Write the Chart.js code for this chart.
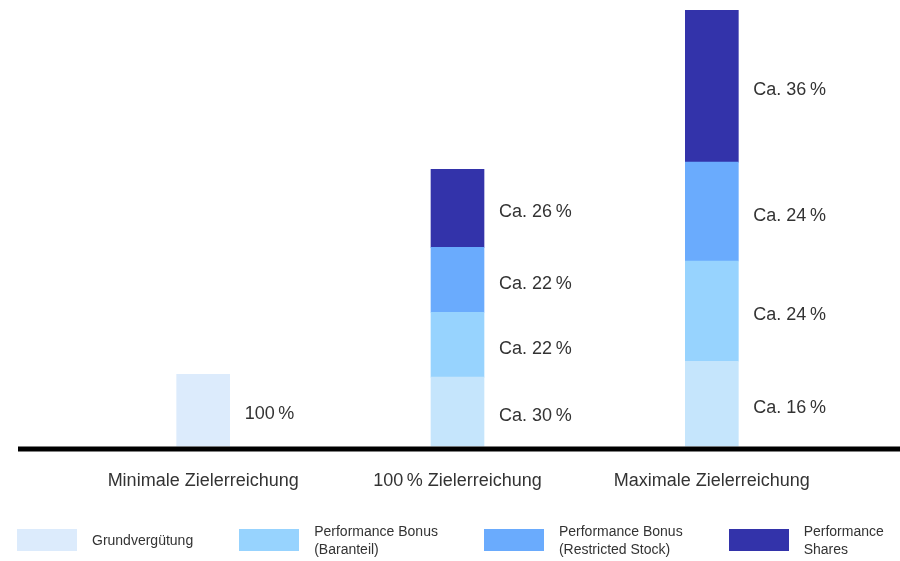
<!DOCTYPE html>
<html>
<head>
<meta charset="utf-8">
<script src="https://cdn.jsdelivr.net/npm/chart.js@4"></script>
<style>
  body { margin: 0; background: #fff; font-family: "Liberation Sans", Arial, sans-serif; }
  #wrap { position: relative; width: 900px; height: 561px; overflow: hidden; }
  #chart { position: absolute; left: 0; top: 0; }
  #legend { position: absolute; left: 17px; top: 522px; display: flex; gap: 46px; color: #333; font-size: 14px; line-height: 18px; }
  .item { display: flex; align-items: center; }
  .box { width: 60px; height: 22px; margin-right: 15px; flex: none; }
  .item span { white-space: nowrap; }
</style>
</head>
<body>
<div id="wrap">
  <canvas id="chart" width="900" height="526"></canvas>
  <div id="legend"></div>
</div>
<script>
// Categories and stacked values (Grundvergütung of the first bar = 100)
const categories = ['Minimale Zielerreichung', '100\u2009% Zielerreichung', 'Maximale Zielerreichung'];
const grundverguetung = [100, 96, 118];
const bonusBaranteil = [null, 90, 139];
const bonusStock = [null, 90, 137];
const perfShares = [null, 108, 211];

// Text next to each segment
const grundLabels = ['100\u2009%', 'Ca. 30\u2009%', 'Ca. 16\u2009%'];
const baranteilLabels = ['', 'Ca. 22\u2009%', 'Ca. 24\u2009%'];
const stockLabels = ['', 'Ca. 22\u2009%', 'Ca. 24\u2009%'];
const sharesLabels = ['', 'Ca. 26\u2009%', 'Ca. 36\u2009%'];

// Legend names (two lines where the original wraps)
const legendNames = [
  ['Grundvergütung'],
  ['Performance Bonus', '(Baranteil)'],
  ['Performance Bonus', '(Restricted Stock)'],
  ['Performance', 'Shares']
];

const colors = ['#dcebfc', '#97d3fe', '#6aabfd', '#3333aa'];
const grundBarColors = ['#dcebfc', '#c5e5fc', '#c5e5fc'];

const segLabels = {
  id: 'segLabels',
  afterDatasetsDraw(chart) {
    const ctx = chart.ctx;
    ctx.save();
    ctx.font = '18px "Liberation Sans", Arial, sans-serif';
    ctx.fillStyle = '#333';
    ctx.textBaseline = 'middle';
    ctx.textAlign = 'left';
    chart.data.datasets.forEach((ds, i) => {
      const meta = chart.getDatasetMeta(i);
      meta.data.forEach((bar, j) => {
        const txt = ds.segText[j];
        if (!txt || ds.data[j] == null) return;
        ctx.fillText(txt, bar.x + bar.width / 2 + 15, (bar.y + bar.base) / 2 + 4);
      });
    });
    ctx.restore();
  }
};

const baseline = {
  id: 'baseline',
  afterDraw(chart) {
    const ctx = chart.ctx;
    const y = chart.scales.y.getPixelForValue(0) + 2.5;
    ctx.save();
    ctx.strokeStyle = '#000';
    ctx.lineWidth = 5;
    ctx.beginPath();
    ctx.moveTo(18, y);
    ctx.lineTo(chart.width, y);
    ctx.stroke();
    ctx.restore();
  }
};

new Chart(document.getElementById('chart'), {
  type: 'bar',
  data: {
    labels: categories,
    datasets: [
      { label: legendNames[0].join(' '), data: grundverguetung, backgroundColor: grundBarColors, segText: grundLabels },
      { label: legendNames[1].join(' '), data: bonusBaranteil, backgroundColor: colors[1], segText: baranteilLabels },
      { label: legendNames[2].join(' '), data: bonusStock, backgroundColor: colors[2], segText: stockLabels },
      { label: legendNames[3].join(' '), data: perfShares, backgroundColor: colors[3], segText: sharesLabels }
    ]
  },
  options: {
    responsive: false,
    animation: false,
    barThickness: 53,
    layout: { padding: { left: 76, right: 61, top: 10, bottom: 10 } },
    scales: {
      x: {
        stacked: true,
        grid: { display: false, drawTicks: false },
        border: { display: false },
        ticks: { color: '#333', padding: 24, font: { family: '"Liberation Sans", Arial, sans-serif', size: 18 } }
      },
      y: { stacked: true, display: false, min: 0, max: 605 }
    },
    plugins: {
      legend: { display: false },
      tooltip: { enabled: false }
    }
  },
  plugins: [segLabels, baseline]
});

// HTML legend built from the same names and colours
const legend = document.getElementById('legend');
legendNames.forEach((lines, i) => {
  const item = document.createElement('div');
  item.className = 'item';
  item.innerHTML = `<div class="box" style="background:${colors[i]}"></div><span>${lines.join('<br>')}</span>`;
  legend.appendChild(item);
});
</script>
</body>
</html>
